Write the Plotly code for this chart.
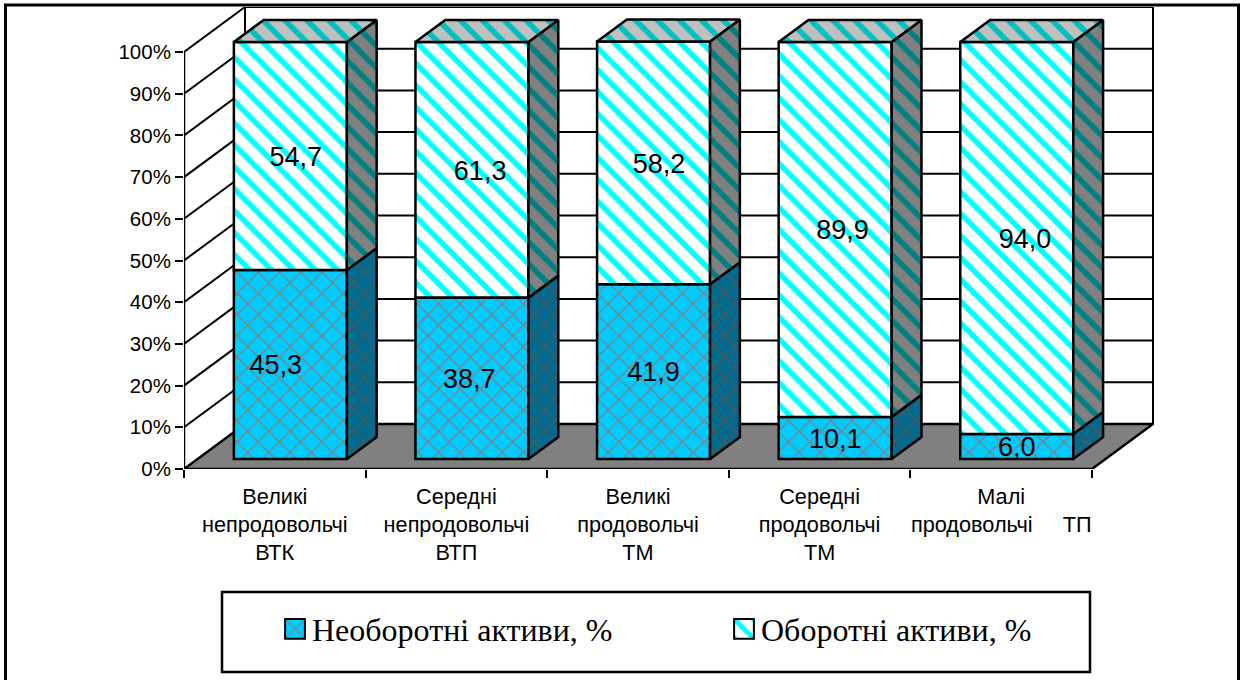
import plotly.graph_objects as go

categories = ["Великі<br>непродовольчі<br>ВТК", "Середні<br>непродовольчі<br>ВТП", "Великі<br>продовольчі<br>ТМ",
              "Середні<br>продовольчі<br>ТМ", "Малі<br>продовольчі     ТП"]
non_current = [45.3, 38.7, 41.9, 10.1, 6.0]
current = [54.7, 61.3, 58.2, 89.9, 94.0]
non_current_labels = ["45,3", "38,7", "41,9", "10,1", "6,0"]
current_labels = ["54,7", "61,3", "58,2", "89,9", "94,0"]
y_ticks = [0, 10, 20, 30, 40, 50, 60, 70, 80, 90, 100]
series_names = ["Необоротні активи, %", "Оборотні активи, %"]
# small horizontal nudges of the data labels, in category units
low_nudge = [-0.08, -0.015, 0.0, 0.0, 0.0]
high_nudge = [0.03, 0.045, 0.03, 0.04, 0.045]

W, H = 1243, 680
PX0, PX1 = 184, 1154   # plot area in pixels
PY0, PY1 = 469, 7
CAT_PX = (1092 - 184) / 5
PCT_PX = (469 - 52) / 100
x_min = -0.5
x_max = x_min + (PX1 - PX0) / CAT_PX
y_max = (PY0 - PY1) / PCT_PX

# oblique depth: one whole depth unit, then the bar's near/far planes
DX = 61 / CAT_PX
DY = 45 / PCT_PX
BAR_W = 113 / CAT_PX
NEAR = 10 / 45
FAR = 32 / 45
BAR_SHIFT = 2 / CAT_PX
LABEL_DROP = 3 / PCT_PX

fig = go.Figure()
shapes = []
black = dict(color="black", width=2.5)
thin = dict(color="black", width=2)

# floor
shapes.append(dict(type="path", layer="below", xref="x", yref="y", fillcolor="#808080", line=black,
    path=f"M{x_min},0 L{x_min+5},0 L{x_min+5+DX},{DY} L{x_min+DX},{DY} Z"))
# walls' gridlines
for t in y_ticks:
    if t == 0:
        continue
    shapes.append(dict(type="line", layer="below", xref="x", yref="y", line=thin,
                       x0=x_min, y0=t, x1=x_min + DX, y1=t + DY))
    shapes.append(dict(type="line", layer="below", xref="x", yref="y", line=thin,
                       x0=x_min + DX, y0=t + DY, x1=x_min + 5 + DX, y1=t + DY))
# wall verticals and axis line
for xv in (x_min + DX, x_min + 5 + DX):
    shapes.append(dict(type="line", layer="below", xref="x", yref="y", line=thin, x0=xv, y0=DY, x1=xv, y1=100 + DY))
shapes.append(dict(type="line", layer="below", xref="x", yref="y", line=black, x0=x_min, y0=0, x1=x_min, y1=100))
# frame and legend box
shapes.append(dict(type="rect", xref="paper", yref="paper", layer="below", line=dict(color="black", width=3),
    x0=(5.5 - PX0) / (PX1 - PX0), x1=(1238.5 - PX0) / (PX1 - PX0),
    y0=(PY0 - 690) / (PY0 - PY1), y1=(PY0 - 5) / (PY0 - PY1)))
shapes.append(dict(type="rect", xref="paper", yref="paper", layer="below", line=black, fillcolor="white",
    x0=(222 - PX0) / (PX1 - PX0), x1=(1090 - PX0) / (PX1 - PX0),
    y0=(PY0 - 672) / (PY0 - PY1), y1=(PY0 - 592) / (PY0 - PY1)))

xs = [i + NEAR * DX + BAR_SHIFT for i in range(5)]
base = NEAR * DY

STRIPE = dict(shape="\\", size=15.5, solidity=0.36, fgopacity=1, fillmode="replace")
WEB = dict(shape="x", size=15, solidity=0.16, fgopacity=1, fillmode="replace")

fig.add_bar(x=xs, y=non_current, base=[base] * 5, width=BAR_W, name=series_names[0],
            marker=dict(color="#00CCFF", line=black, pattern=dict(WEB, fgcolor="#808080", bgcolor="#00CCFF")))
fig.add_bar(x=xs, y=current, base=[base + v for v in non_current], width=BAR_W, name=series_names[1],
            marker=dict(color="white", line=black, pattern=dict(STRIPE, fgcolor="#00FFFF", bgcolor="white")))

d = (FAR - NEAR)
def side(i, lo, hi, bg, pattern):
    xr = xs[i] + BAR_W / 2
    fig.add_scatter(x=[xr, xr + d * DX, xr + d * DX, xr, xr],
                    y=[base + lo, base + lo + d * DY, base + hi + d * DY, base + hi, base + lo],
                    mode="lines", line=black, fill="toself", fillcolor=bg,
                    fillpattern=dict(pattern, bgcolor=bg),
                    showlegend=False, hoverinfo="skip")

for i in range(5):
    a, b = non_current[i], non_current[i] + current[i]
    side(i, 0, a, "#006A8F", dict(WEB, fgcolor="#555555"))
    side(i, a, b, "#808080", dict(STRIPE, fgcolor="#008080"))
    xl = xs[i] - BAR_W / 2
    xr = xs[i] + BAR_W / 2
    fig.add_scatter(x=[xl, xr, xr + d * DX, xl + d * DX, xl],
                    y=[base + b, base + b, base + b + d * DY, base + b + d * DY, base + b],
                    mode="lines", line=black, fill="toself", fillcolor="#C0C0C0",
                    fillpattern=dict(STRIPE, fgcolor="#00C0C0", bgcolor="#C0C0C0"),
                    showlegend=False, hoverinfo="skip")

label_font = dict(family="Liberation Sans", size=27, color="black")
fig.add_scatter(x=[xs[i] + low_nudge[i] for i in range(5)], y=[base + v / 2 - LABEL_DROP for v in non_current],
                mode="text", text=non_current_labels, textposition="middle center", textfont=label_font,
                showlegend=False, hoverinfo="skip")
fig.add_scatter(x=[xs[i] + high_nudge[i] for i in range(5)],
                y=[base + non_current[i] + current[i] / 2 - LABEL_DROP for i in range(5)],
                mode="text", text=current_labels, textposition="middle center", textfont=label_font,
                showlegend=False, hoverinfo="skip")

fig.update_layout(
    width=W, height=H, autosize=False, paper_bgcolor="white", plot_bgcolor="rgba(0,0,0,0)",
    margin=dict(l=PX0, r=W - PX1, t=PY1, b=H - PY0),
    barmode="overlay", shapes=shapes, hovermode=False,
    font=dict(family="Liberation Sans", color="black"),
    xaxis=dict(range=[x_min, x_max], showgrid=False, zeroline=False, showline=False,
               tickvals=list(range(5)), ticktext=categories, ticks="", ticklen=0,
               tickfont=dict(size=21.7), ticklabelstandoff=12,
               minor=dict(tickvals=[x_min + k for k in range(6)], ticks="outside", ticklen=8, tickwidth=2,
                          tickcolor="black", showgrid=False)),
    yaxis=dict(range=[0, y_max], showgrid=False, zeroline=False, showline=False,
               tickvals=y_ticks, ticktext=[f"{t}%" for t in y_ticks], ticks="outside", ticklen=8, tickwidth=2,
               tickcolor="black", tickfont=dict(size=20.5)),
    legend=dict(orientation="h", x=(292 - 20 - PX0) / (PX1 - PX0), y=(PY0 - 629) / (PY0 - PY1), yanchor="middle",
                xanchor="left", bgcolor="rgba(0,0,0,0)", font=dict(family="Liberation Serif", size=32),
                entrywidth=404, itemsizing="constant"),
)
enlarge = ("document.body.style.margin='0';"
           "document.querySelectorAll('.legend .legendpoints path')"
           ".forEach(function(p){p.setAttribute('transform','translate(23,0) scale(1.65)');"
           "p.style.vectorEffect='non-scaling-stroke';});")
fig.write_html("out.html", post_script=enlarge, config={"displayModeBar": False})
